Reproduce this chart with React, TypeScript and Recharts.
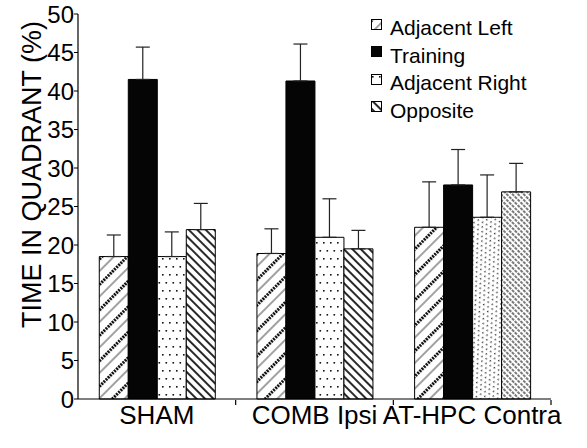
import { BarChart, Bar, XAxis, YAxis, ErrorBar, Cell } from "recharts";

const groups = ["SHAM", "COMB Ipsi", "AT-HPC Contra"];
const adjacentLeft = [18.5, 18.9, 22.3];
const adjacentLeftErr = [2.8, 3.2, 5.9];
const training = [41.5, 41.3, 27.8];
const trainingErr = [4.2, 4.8, 4.6];
const adjacentRight = [18.5, 21.0, 23.6];
const adjacentRightErr = [3.2, 5.0, 5.5];
const opposite = [22.0, 19.5, 26.9];
const oppositeErr = [3.4, 2.4, 3.7];
const yTicks = [0, 5, 10, 15, 20, 25, 30, 35, 40, 45, 50];
const edgeTicks = [1, 2, 3];

const FONT = "'Liberation Sans', Arial, Helvetica, sans-serif";

const series = [
  { key: "adjLeft", name: "Adjacent Left", fills: ["url(#pLeft)", "url(#pLeft)", "url(#pLeft)"] },
  { key: "training", name: "Training", fills: ["#050505", "#050505", "#050505"] },
  { key: "adjRight", name: "Adjacent Right", fills: ["url(#pDots)", "url(#pDots)", "url(#pDots2)"] },
  { key: "opposite", name: "Opposite", fills: ["url(#pOpp)", "url(#pOpp)", "url(#pOpp2)"] },
];

const data = groups.map((name, i) => ({
  name,
  adjLeft: adjacentLeft[i],
  adjLeftErr: [0, adjacentLeftErr[i]],
  training: training[i],
  trainingErr: [0, trainingErr[i]],
  adjRight: adjacentRight[i],
  adjRightErr: [0, adjacentRightErr[i]],
  opposite: opposite[i],
  oppositeErr: [0, oppositeErr[i]],
}));

function Patterns() {
  return (
    <defs>
      <pattern id="pLeft" patternUnits="userSpaceOnUse" width="18" height="18" patternTransform="rotate(45)">
        <rect width="18" height="18" fill="#fff" />
        <line x1="1.5" y1="0" x2="1.5" y2="18" stroke="#111" strokeWidth="3.2" strokeDasharray="2 1" />
        <line x1="10" y1="0" x2="10" y2="18" stroke="#444" strokeWidth="1" />
      </pattern>
      <pattern id="pOpp" patternUnits="userSpaceOnUse" width="6" height="6" patternTransform="rotate(-45)">
        <rect width="6" height="6" fill="#fff" />
        <line x1="1" y1="0" x2="1" y2="6" stroke="#111" strokeWidth="1.8" />
      </pattern>
      <pattern id="pOpp2" patternUnits="userSpaceOnUse" width="4" height="4" patternTransform="rotate(-45)">
        <rect width="4" height="4" fill="#fff" />
        <line x1="1" y1="0" x2="1" y2="4" stroke="#333" strokeWidth="1.3" strokeDasharray="2 1" />
      </pattern>
      <pattern id="pDots" patternUnits="userSpaceOnUse" width="7" height="16">
        <rect width="7" height="16" fill="#fff" />
        <rect x="1" y="2" width="1.6" height="1.6" fill="#111" />
        <rect x="4.5" y="10" width="1.6" height="1.6" fill="#111" />
      </pattern>
      <pattern id="pDots2" patternUnits="userSpaceOnUse" width="5" height="8" patternTransform="rotate(-30)">
        <rect width="5" height="8" fill="#fff" />
        <rect x="1" y="1" width="1.4" height="1.4" fill="#333" />
        <rect x="3.5" y="5" width="1.4" height="1.4" fill="#333" />
      </pattern>
    </defs>
  );
}

function GroupTick(props: any) {
  const { x, y, payload } = props;
  return (
    <text x={x} y={y + 23} textAnchor="middle" fontFamily={FONT} fontSize={26} fill="#000">
      {payload.value}
    </text>
  );
}

function EmptyTick() {
  return <g />;
}

function AxisTitle(props: any) {
  const vb = props.viewBox;
  const cx = vb.x + 32;
  const cy = vb.y + vb.height / 2 - 32;
  return (
    <text
      transform={`translate(${cx},${cy}) rotate(-90)`}
      textAnchor="middle"
      dominantBaseline="central"
      fontFamily={FONT}
      fontSize={27}
      fill="#000"
    >
      TIME IN QUADRANT (%)
    </text>
  );
}

function QuadrantLegend() {
  return (
    <div
      style={{
        position: "absolute",
        left: 371,
        top: 14,
        fontFamily: FONT,
        fontSize: 21,
        color: "#000",
        lineHeight: "27.5px",
      }}
    >
      {series.map((s) => (
        <div key={s.key} style={{ display: "flex", alignItems: "center", whiteSpace: "nowrap" }}>
          <svg width={12} height={12} style={{ marginRight: 7, marginTop: -6 }}>
            <rect x={0.5} y={0.5} width={10} height={10} fill={s.fills[0]} stroke="#000" strokeWidth={1} />
          </svg>
          <span>{s.name}</span>
        </div>
      ))}
    </div>
  );
}

export default function App() {
  return (
    <div style={{ position: "absolute", left: 0, top: 0, width: 587, height: 448, background: "#fff" }}>
      <BarChart
        width={587}
        height={448}
        data={data}
        margin={{ top: 14, right: 36, left: 0, bottom: 47 }}
        barCategoryGap="13.5%"
        barGap={0}
      >
        <Patterns />
        <XAxis
          xAxisId="cat"
          dataKey="name"
          height={1}
          interval={0}
          tickLine={false}
          tickSize={0}
          axisLine={{ stroke: "#000", strokeWidth: 1.2 }}
          tick={<GroupTick />}
        />
        <XAxis
          xAxisId="edges"
          type="number"
          dataKey="training"
          domain={[0, 3]}
          allowDataOverflow
          ticks={edgeTicks}
          interval={0}
          height={1}
          axisLine={false}
          tick={<EmptyTick />}
          tickSize={5}
          tickLine={{ stroke: "#000", strokeWidth: 1.2 }}
        />
        <YAxis
          width={78}
          domain={[0, 50]}
          ticks={yTicks}
          interval={0}
          tickSize={4}
          tickMargin={0}
          axisLine={{ stroke: "#000", strokeWidth: 1.2 }}
          tickLine={{ stroke: "#000" }}
          tick={{ fontFamily: FONT, fontSize: 24, fill: "#000" }}
          label={<AxisTitle />}
        />
        {series.map((s) => (
          <Bar
            key={s.key}
            xAxisId="cat"
            dataKey={s.key}
            name={s.name}
            stroke="#000"
            strokeWidth={1}
            isAnimationActive={false}
          >
            {data.map((_, i) => (
              <Cell key={i} fill={s.fills[i]} />
            ))}
            <ErrorBar dataKey={`${s.key}Err`} width={7} stroke="#222" strokeWidth={1.2} direction="y" />
          </Bar>
        ))}
      </BarChart>
      <QuadrantLegend />
    </div>
  );
}
